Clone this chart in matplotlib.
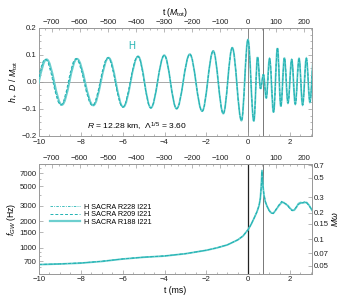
import numpy as np
import matplotlib
matplotlib.use("Agg")
import matplotlib.pyplot as plt
from matplotlib.path import Path
from matplotlib.patches import PathPatch
from matplotlib.ticker import MultipleLocator, FixedLocator, NullFormatter, FixedFormatter
from matplotlib.lines import Line2D

plt.rcParams['font.family'] = ['Liberation Sans', 'DejaVu Sans']
plt.rcParams['mathtext.fontset'] = 'custom'
plt.rcParams['mathtext.rm'] = 'Liberation Sans'
plt.rcParams['mathtext.it'] = 'Liberation Sans:italic'
plt.rcParams['mathtext.bf'] = 'Liberation Sans:bold'

# ---------------- data ----------------
# waveform extrema (t in ms, h+ D / M_tot), R188 (solid)
wave_t = [-10.37, -9.63, -8.90, -8.18, -7.40, -6.67, -5.97, -5.26, -4.65, -4.01,
          -3.42, -2.79, -2.20, -1.67, -1.19, -0.76, -0.32, -0.01, 0.27, 0.45,
          0.59, 0.73, 0.86, 1.02, 1.21, 1.40, 1.56, 1.73, 1.90, 2.08,
          2.25, 2.43, 2.60, 2.78, 2.95, 3.12]
wave_h = [-0.082, 0.084, -0.085, 0.086, -0.087, 0.090, -0.093, 0.095, -0.096, 0.099,
          -0.099, 0.103, -0.108, 0.115, -0.117, 0.127, -0.143, 0.157, -0.145, 0.092,
          -0.025, 0.028, -0.060, 0.087, -0.112, 0.125, -0.090, 0.089, -0.078, 0.083,
          -0.082, 0.087, -0.085, 0.088, -0.075, 0.080]
# time shift of the extrema of the other resolutions (ms)
shift_r209 = [-0.07, -0.07, -0.06, -0.06, -0.05, -0.04, -0.03, -0.02, -0.01, 0.0,
              0.0, 0.0, 0.0, 0.0, 0.0, 0.0, 0.0, 0.0, 0.0, 0.0,
              0.0, 0.0, 0.01, 0.01, 0.01, 0.0, 0.0, 0.01, 0.01, 0.0,
              0.01, 0.0, 0.01, 0.0, 0.01, 0.0]
shift_r228 = [-0.04, -0.04, -0.04, -0.03, -0.03, -0.02, -0.02, -0.01, 0.0, 0.0,
              0.0, 0.0, 0.0, 0.0, 0.0, 0.0, 0.0, 0.0, 0.0, 0.0,
              0.0, 0.0, 0.0, 0.01, 0.0, 0.0, 0.01, 0.0, 0.0, 0.01,
              0.0, 0.01, 0.0, 0.01, 0.0, 0.0]

# GW frequency (Hz)
freq_t = [-10, -9, -8, -7, -6, -5, -4, -3, -2, -1.5, -1, -0.5, -0.25, 0, 0.15, 0.3,
          0.42, 0.52, 0.58, 0.62, 0.66, 0.70, 0.75, 0.82, 0.9, 1.0, 1.1, 1.2, 1.3,
          1.45, 1.6, 1.7, 1.8, 1.9, 2.0, 2.1, 2.2, 2.3, 2.4, 2.5, 2.6, 2.7, 2.8, 2.9, 3.05]
freq_r188 = [640, 650, 665, 695, 740, 775, 800, 850, 930, 990, 1070, 1220, 1350, 1600, 1850, 2200,
             2550, 3000, 3600, 4800, 7500, 5200, 4000, 3300, 2950, 2650, 2480, 2450, 2620,
             2950, 3250, 3250, 3100, 3000, 2800, 2650, 2650, 2850, 3150, 3250, 3200, 3250, 3250, 3050, 2650]
freq_r209 = [642, 652, 668, 698, 742, 777, 803, 852, 932, 992, 1072, 1222, 1352, 1600, 1850, 2200,
             2550, 3000, 3600, 4700, 7300, 5300, 4050, 3350, 2950, 2620, 2450, 2430, 2650,
             3000, 3350, 3200, 3150, 2950, 2750, 2620, 2700, 2900, 3100, 3150, 3250, 3300, 3200, 3000, 2700]
freq_r228 = [641, 651, 666, 697, 741, 776, 801, 851, 931, 991, 1071, 1221, 1351, 1600, 1850, 2200,
             2550, 3000, 3600, 4750, 7400, 5250, 4020, 3320, 2950, 2640, 2460, 2440, 2630,
             2980, 3300, 3220, 3120, 2980, 2780, 2640, 2680, 2880, 3120, 3200, 3230, 3280, 3230, 3020, 2680]

labels = ["H SACRA R228 I221", "H SACRA R209 I221", "H SACRA R188 I221"]
t_merger = 0.0
t_line2 = 0.69
ms_per_M = 0.01342        # 1 M_tot in ms
Momega_per_Hz = 8.1e-5    # M*omega per Hz

top_ticks = [-700, -600, -500, -400, -300, -200, -100, 0, 100, 200]
f_ticks = [700, 1000, 1500, 2000, 3000, 5000, 7000]
mw_ticks = [0.05, 0.07, 0.1, 0.15, 0.2, 0.3, 0.5, 0.7]

# ---------------- styles ----------------
c_solid = '#6dcfcf'
c_dash = '#22b3b3'
gray = '#9a9a9a'
fs = 5.6

fig = plt.figure(figsize=(3.46, 3.02), dpi=100)
ax1 = fig.add_axes([0.1127, 0.5497, 0.789, 0.3576])
ax2 = fig.add_axes([0.1127, 0.0927, 0.789, 0.3643])


def wave_path(ts, hs):
    verts = [(ts[0], hs[0])]
    codes = [Path.MOVETO]
    c = 0.36
    for i in range(len(ts) - 1):
        t0, t1 = ts[i], ts[i + 1]
        h0, h1 = hs[i], hs[i + 1]
        dt = t1 - t0
        verts += [(t0 + c * dt, h0), (t1 - c * dt, h1), (t1, h1)]
        codes += [Path.CURVE4] * 3
    return Path(verts, codes)


def style_axis(ax):
    for s in ax.spines.values():
        s.set_color(gray)
        s.set_linewidth(0.7)
    ax.tick_params(which='both', direction='in', colors=gray, labelcolor='#222222',
                   labelsize=fs, width=0.5)
    ax.tick_params(which='major', length=3, pad=1.5)
    ax.tick_params(which='minor', length=1.5)


def minus_fmt(decimals):
    return matplotlib.ticker.FuncFormatter(
        lambda v, p: ('\u2212' if v < -1e-9 else '') + f"{abs(v):.{decimals}f}")


# ---------------- top panel ----------------
t_solid = np.array(wave_t)
t_209 = t_solid + np.array(shift_r209)
t_228 = t_solid + np.array(shift_r228)
ax1.add_patch(PathPatch(wave_path(t_solid, wave_h), fill=False, edgecolor=c_solid, lw=1.3, zorder=3))
ax1.add_patch(PathPatch(wave_path(t_209, wave_h), fill=False, edgecolor=c_dash, lw=0.7,
                        linestyle=(0, (3, 2)), zorder=4))
ax1.add_patch(PathPatch(wave_path(t_228, wave_h), fill=False, edgecolor=c_dash, lw=0.6,
                        linestyle=(0, (3, 1.5, 1, 1.5)), zorder=4))
ax1.axhline(0, color=gray, lw=0.6, zorder=1)
ax1.axvline(t_merger, color='#888888', lw=0.7, zorder=1)
ax1.axvline(t_line2, color='#777777', lw=0.7, zorder=1)
ax1.set_xlim(-10, 3.05)
ax1.set_ylim(-0.2, 0.2)
ax1.xaxis.set_major_locator(MultipleLocator(2))
ax1.xaxis.set_minor_locator(MultipleLocator(0.5))
ax1.yaxis.set_major_locator(MultipleLocator(0.1))
ax1.yaxis.set_minor_locator(MultipleLocator(0.025))
ax1.yaxis.set_major_formatter(minus_fmt(1))
ax1.xaxis.set_major_formatter(minus_fmt(0))
ax1.tick_params(which='both', right=True)
style_axis(ax1)
ax1.tick_params(axis='x', which='major', pad=2.2)
ax1.set_ylabel(r"$h_+\ D\ /\ M_{\rm tot}$", fontsize=fs + 0.6, labelpad=1)
ax1.text(0.34, 0.835, "H", transform=ax1.transAxes, color=c_dash, fontsize=fs + 1.4,
         ha='center', va='center')
ax1.text(0.36, 0.085, r"$R$ = 12.28 km,  $\Lambda^{1/5}$ = 3.60", transform=ax1.transAxes,
         fontsize=fs + 0.5, ha='center', va='center')

sec1 = ax1.secondary_xaxis('top', functions=(lambda t: t / ms_per_M, lambda m: m * ms_per_M))
sec1.set_xticks(top_ticks)
sec1.xaxis.set_major_formatter(minus_fmt(0))
sec1.xaxis.set_minor_locator(MultipleLocator(25))
style_axis(sec1)
sec1.set_xlabel(r"t ($M_{\rm tot}$)", fontsize=fs + 0.6, labelpad=3)

# ---------------- bottom panel ----------------
ax2.set_yscale('log')
ax2.plot(freq_t, freq_r228, color=c_dash, lw=0.6, linestyle=(0, (3, 1.5, 1, 1.5)), zorder=4)
ax2.plot(freq_t, freq_r209, color=c_dash, lw=0.7, linestyle=(0, (3, 2)), zorder=4)
ax2.plot(freq_t, freq_r188, color=c_solid, lw=1.3, zorder=3)
ax2.axvline(t_merger, color='#222222', lw=0.9, zorder=2)
ax2.axvline(t_line2, color='#777777', lw=0.7, zorder=2)
ax2.set_xlim(-10, 3.05)
ax2.set_ylim(500, 8900)
ax2.xaxis.set_major_locator(MultipleLocator(2))
ax2.xaxis.set_minor_locator(MultipleLocator(0.5))
ax2.xaxis.set_major_formatter(minus_fmt(0))
ax2.yaxis.set_major_locator(FixedLocator(f_ticks))
ax2.yaxis.set_major_formatter(FixedFormatter([str(v) for v in f_ticks]))
ax2.yaxis.set_minor_locator(FixedLocator([500, 600, 800, 900, 4000, 6000, 8000]))
ax2.yaxis.set_minor_formatter(NullFormatter())
style_axis(ax2)
ax2.set_xlabel("t (ms)", fontsize=fs + 0.6, labelpad=2)
ax2.set_ylabel(r"$f_{GW}$ (Hz)", fontsize=fs + 0.6, labelpad=1)

sec2 = ax2.secondary_xaxis('top', functions=(lambda t: t / ms_per_M, lambda m: m * ms_per_M))
sec2.set_xticks(top_ticks)
sec2.xaxis.set_major_formatter(minus_fmt(0))
sec2.xaxis.set_minor_locator(MultipleLocator(25))
style_axis(sec2)

ax3 = ax2.twinx()
ax3.set_yscale('log')
ax3.set_ylim(500 * Momega_per_Hz, 8900 * Momega_per_Hz)
ax3.yaxis.set_major_locator(FixedLocator(mw_ticks))
ax3.yaxis.set_major_formatter(FixedFormatter([f"{v:g}" for v in mw_ticks]))
ax3.yaxis.set_minor_locator(FixedLocator([]))
ax3.yaxis.set_minor_formatter(NullFormatter())
style_axis(ax3)
ax3.set_ylabel(r"$M\omega$", fontsize=fs + 0.6, labelpad=1, rotation=90)

handles = [Line2D([], [], color=c_dash, lw=0.6, linestyle=(0, (3, 1.5, 1, 1.5))),
           Line2D([], [], color=c_dash, lw=0.7, linestyle=(0, (3, 2))),
           Line2D([], [], color=c_solid, lw=1.6)]
ax2.legend(handles, labels, loc='center left', bbox_to_anchor=(0.02, 0.54), frameon=False,
           fontsize=fs - 0.4, handlelength=4.2, labelspacing=0.05, handletextpad=0.6,
           borderpad=0.2)

fig.savefig("out.png", dpi=100)
